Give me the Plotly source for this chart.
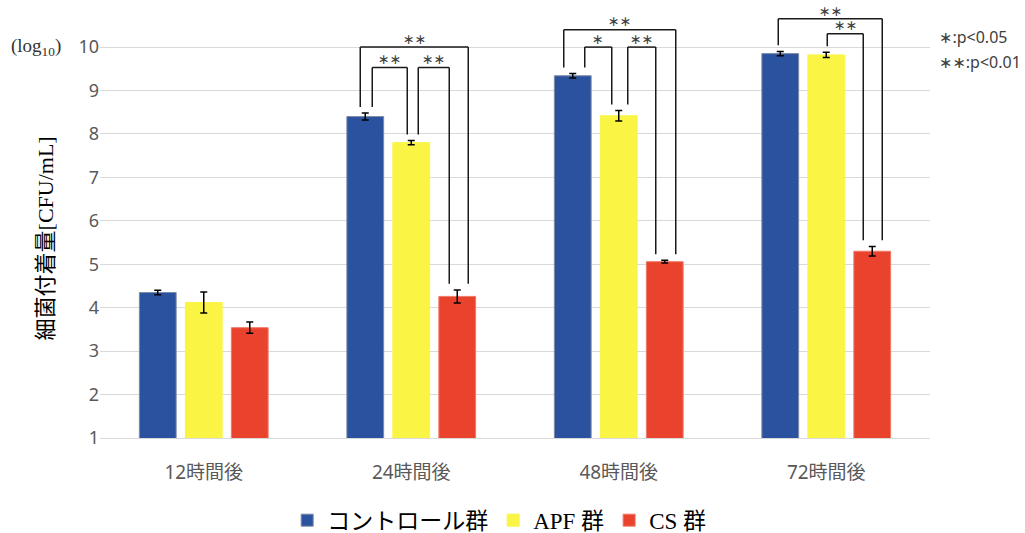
import plotly.graph_objects as go

categories = ["12時間後", "24時間後", "48時間後", "72時間後"]
series_names = ["コントロール群", "APF 群", "CS 群"]
control_vals = [4.35, 8.40, 9.34, 9.85]
control_err = [0.05, 0.08, 0.05, 0.05]
apf_vals = [4.12, 7.80, 8.42, 9.82]
apf_err = [0.24, 0.05, 0.12, 0.06]
cs_vals = [3.54, 4.26, 5.06, 5.30]
cs_err = [0.13, 0.15, 0.03, 0.11]
y_ticks = [1, 2, 3, 4, 5, 6, 7, 8, 9, 10]

# significance brackets: (category, group a, group b, bracket level, label)
brackets = [
    ("24時間後", 0, 1, 9.53, "∗∗"),
    ("24時間後", 1, 2, 9.53, "∗∗"),
    ("24時間後", 0, 2, 10.0, "∗∗"),
    ("48時間後", 0, 1, 10.0, "∗"),
    ("48時間後", 1, 2, 10.0, "∗∗"),
    ("48時間後", 0, 2, 10.40, "∗∗"),
    ("72時間後", 1, 2, 10.31, "∗∗"),
    ("72時間後", 0, 2, 10.65, "∗∗"),
]
# leg horizontal nudges in pixels (style)
leg_nudges = [(7, -4), (7, -8), (-5, 11), (12, -7), (9, -9), (-9, 11), (1, -9), (-2, 10)]

colors = ["#2A529E", "#FAF545", "#E9432D"]
outline = ["#7D8AA6", "#FAF545", "#F07A68"]

BARGAP = 0.335
GROUPGAP = 0.20
PX_PER_CAT = 830 / 4.0

vals = [control_vals, apf_vals, cs_vals]
errs = [control_err, apf_err, cs_err]

fig = go.Figure()
for k in range(3):
    fig.add_trace(go.Bar(
        x=categories, y=vals[k], name=series_names[k],
        marker=dict(color=colors[k], line=dict(color=outline[k], width=1)),
        error_y=dict(type="data", array=errs[k], color="#000000", thickness=1.5, width=3.5),
    ))

slot = (1 - BARGAP) / 3
shapes = []
annotations = []
line_style = dict(color="#1a1a1a", width=1.5)
for (cat, a, b, level, label), (dl, dr) in zip(brackets, leg_nudges):
    c = categories.index(cat)
    xa = c + (a - 1) * slot + dl / PX_PER_CAT
    xb = c + (b - 1) * slot + dr / PX_PER_CAT
    ya = vals[a][c] + errs[a][c] + 0.14
    yb = vals[b][c] + errs[b][c] + 0.14
    shapes.append(dict(type="line", xref="x", yref="y", x0=xa, x1=xa, y0=ya, y1=level, line=line_style))
    shapes.append(dict(type="line", xref="x", yref="y", x0=xa, x1=xb, y0=level, y1=level, line=line_style))
    shapes.append(dict(type="line", xref="x", yref="y", x0=xb, x1=xb, y0=level, y1=yb, line=line_style))
    annotations.append(dict(xref="x", yref="y", x=(xa + xb) / 2, y=level + 0.19, text=label,
                            showarrow=False, font=dict(family="DejaVu Sans", size=14, color="#404040"),
                            yanchor="middle", xanchor="center"))

annotations.append(dict(xref="paper", yref="y", x=-0.110, y=10.0, text="(log<sub>10</sub>)",
                        showarrow=False, xanchor="left", yanchor="middle",
                        font=dict(family="Liberation Serif", size=19, color="#333333")))
annotations.append(dict(xref="paper", yref="y", x=-0.066, y=5.6, text="細菌付着量[CFU/mL]",
                        textangle=-90, showarrow=False, xanchor="center", yanchor="middle",
                        font=dict(family="Liberation Serif, Noto Sans CJK JP", size=22, color="#000000")))
annotations.append(dict(xref="paper", yref="y", x=1.009, y=10.23, text="∗:p<0.05",
                        showarrow=False, xanchor="left", yanchor="middle",
                        font=dict(family="Noto Sans, DejaVu Sans", size=16, color="#404040")))
annotations.append(dict(xref="paper", yref="y", x=1.008, y=9.66, text="∗∗:p<0.01",
                        showarrow=False, xanchor="left", yanchor="middle",
                        font=dict(family="Noto Sans, DejaVu Sans", size=16, color="#404040")))

fig.update_layout(
    width=1025, height=533,
    margin=dict(l=100, r=95, t=8, b=95),
    paper_bgcolor="white", plot_bgcolor="white",
    barmode="group", bargap=BARGAP, bargroupgap=GROUPGAP,
    shapes=shapes, annotations=annotations,
    showlegend=True,
    legend=dict(orientation="h", xref="container", yref="container", x=0.487, y=0.024,
                xanchor="center", yanchor="middle",
                font=dict(family="Liberation Serif, Noto Sans CJK JP", size=23, color="#000000"),
                itemclick=False),
    xaxis=dict(type="category", showline=True, linecolor="#d9d9d9", linewidth=1,
               showgrid=False, ticks="", ticklabelstandoff=17,
               tickfont=dict(family="Noto Sans, Noto Sans CJK JP", size=19, color="#595959")),
    yaxis=dict(range=[1, 10.9], tickvals=y_ticks, showgrid=True, gridcolor="#d9d9d9", gridwidth=1,
               zeroline=False, showline=False, ticks="",
               tickfont=dict(family="Noto Sans, Noto Sans CJK JP", size=18, color="#595959")),
)

fig.write_html("out.html")
